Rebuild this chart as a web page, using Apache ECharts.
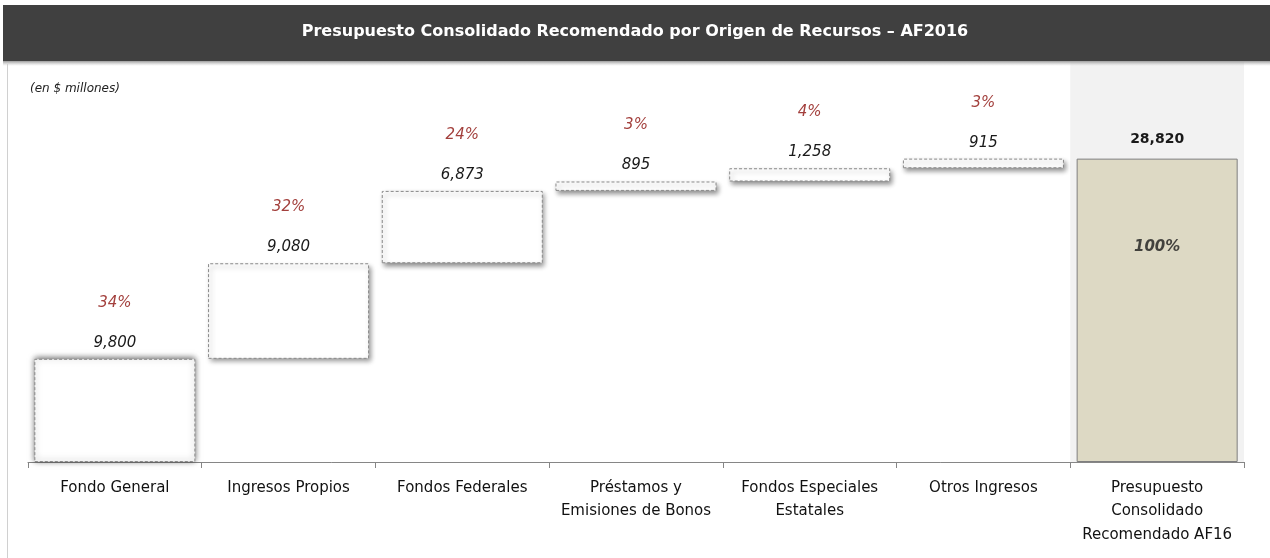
<!DOCTYPE html>
<html><head><meta charset="utf-8">
<script src="https://cdn.jsdelivr.net/npm/echarts@6/dist/echarts.min.js"></script>
<style>html,body{margin:0;padding:0;background:#fff}#c{width:1270px;height:558px}</style>
</head><body><div id="c"></div>
<script>
const categories = ['Fondo General','Ingresos Propios','Fondos Federales','Préstamos y\nEmisiones de Bonos','Fondos Especiales\nEstatales','Otros Ingresos','Presupuesto\nConsolidado\nRecomendado AF16'];
const values = [9800, 9080, 6873, 895, 1258, 915, 28820];
const percents = [34, 32, 24, 3, 4, 3, 100];
const titleText = 'Presupuesto Consolidado Recomendado por Origen de Recursos – AF2016';
const unitText = '(en $ millones)';

const last = values.length - 1;
const bases = [];
let run = 0;
for (let i = 0; i < values.length; i++) {
  if (i === last) { bases.push(0); } else { bases.push(run); run += values[i]; }
}
const FONT = '"DejaVu Sans", sans-serif';
const fmt = v => v.toLocaleString('en-US');

const chart = echarts.init(document.getElementById('c'), null, {renderer: 'canvas'});
chart.setOption({
  animation: false,
  textStyle: {fontFamily: FONT},
  graphic: [
    {type: 'rect', shape: {x: 3, y: 5, width: 1267, height: 56}, style: {fill: '#404040'}, z: 10},
    {type: 'rect', shape: {x: 3, y: 61, width: 1267, height: 5},
     style: {fill: new echarts.graphic.LinearGradient(0, 0, 0, 1, [{offset: 0, color: '#9a9a9a'}, {offset: 1, color: 'rgba(200,200,200,0)'}])}, z: 10},
    {type: 'text', left: 'center', top: 24, style: {text: titleText, fill: '#ffffff', font: 'bold 16px ' + FONT}, z: 11},
    {type: 'line', shape: {x1: 7.5, y1: 64, x2: 7.5, y2: 558}, style: {stroke: '#d0d0d0', lineWidth: 1}, z: 10},
    {type: 'text', left: 30, top: 83, style: {text: unitText, fill: '#222', font: 'italic 12px ' + FONT}, z: 11}
  ],
  grid: {left: 28, right: 26, top: 62, bottom: 96},
  xAxis: {
    type: 'category', data: categories,
    axisLine: {lineStyle: {color: '#868686'}},
    axisTick: {show: true, length: 6, lineStyle: {color: '#868686'}, alignWithLabel: false},
    axisLabel: {color: '#111', fontSize: 15, lineHeight: 23.5, margin: 14, interval: 0, fontFamily: FONT}
  },
  yAxis: {type: 'value', min: 0, max: 38000, show: false, splitLine: {show: false}},
  series: [
    {
      type: 'bar', stack: 'w', barWidth: '92.7%', silent: true,
      itemStyle: {color: 'transparent'},
      data: bases,
      markArea: {
        silent: true,
        itemStyle: {color: '#f2f2f2'},
        data: [[{xAxis: categories[last]}, {xAxis: categories[last]}]]
      }
    },
    {
      type: 'bar', stack: 'w', barWidth: '92.7%',
      data: values.map((v, i) => i === last ? {
        value: v,
        itemStyle: {color: '#ddd9c4', borderColor: '#7f7f7f', borderWidth: 1, borderType: 'solid', shadowBlur: 0, shadowOffsetX: 0, shadowOffsetY: 0}
      } : i === 0 ? {
        value: v,
        itemStyle: {shadowBlur: 6, shadowOffsetX: 0, shadowOffsetY: -1, shadowColor: 'rgba(0,0,0,0.6)'}
      } : v),
      itemStyle: {
        color: '#ffffff', borderColor: '#8a8a8a', borderWidth: 1, borderType: [3, 2],
        shadowBlur: 5, shadowColor: 'rgba(0,0,0,0.45)', shadowOffsetX: 2, shadowOffsetY: 3
      },
      label: {
        show: true, position: 'top', distance: 7,
        formatter: p => p.dataIndex === last ? '{t|' + fmt(p.value) + '}' : '{p|' + percents[p.dataIndex] + '%}\n{v|' + fmt(p.value) + '}',
        rich: {
          p: {color: '#a3403d', fontStyle: 'italic', fontSize: 15, lineHeight: 62, fontFamily: FONT},
          v: {color: '#1a1a1a', fontStyle: 'italic', fontSize: 15, lineHeight: 18, fontFamily: FONT},
          t: {color: '#1a1a1a', fontWeight: 'bold', fontSize: 14, lineHeight: 18, padding: [0, 0, 6, 0], fontFamily: FONT}
        }
      }
    },
    {
      type: 'scatter', symbolSize: 0, silent: true,
      data: [[categories[last], values[last]]],
      label: {
        show: true, position: 'inside', offset: [0, 88],
        formatter: () => percents[last] + '%',
        color: '#1a1a1a', fontStyle: 'italic', fontWeight: 'bold', fontSize: 15, fontFamily: FONT
      }
    }
  ]
});
</script></body></html>
